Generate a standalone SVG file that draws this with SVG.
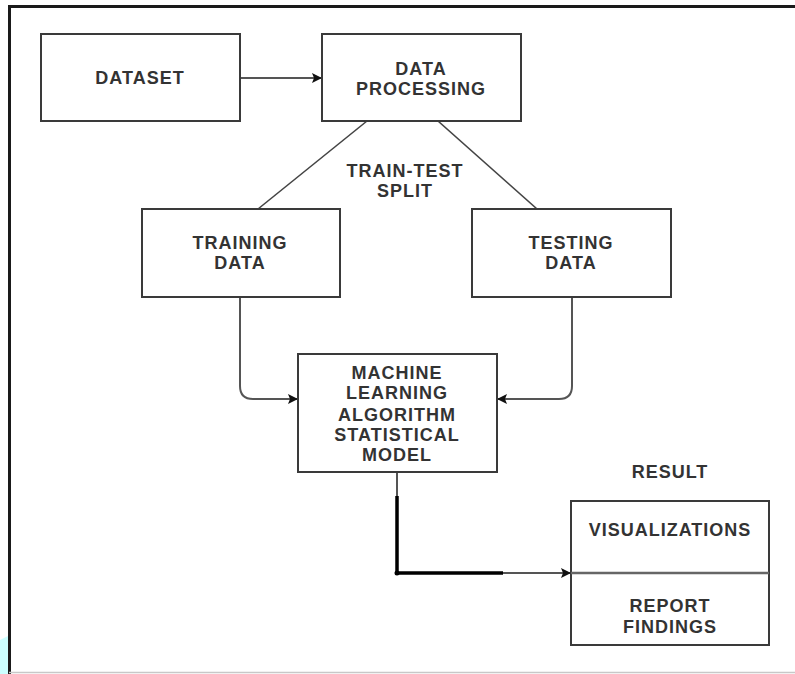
<svg xmlns="http://www.w3.org/2000/svg" width="795" height="674" viewBox="0 0 795 674">
  <style>
    .box { fill: #ffffff; stroke: #3a3a3a; stroke-width: 2; }
    .lbl { font-family: "Liberation Sans", Arial, sans-serif; font-size: 18px; font-weight: bold; fill: #333333; text-anchor: middle; letter-spacing: 1px; }
    .wire { fill: none; stroke: #555555; stroke-width: 2; }
    .thin { fill: none; stroke: #444444; stroke-width: 1.6; }
    .heavy { fill: none; stroke: #000000; stroke-width: 3.5; }
  </style>
  <defs>
    <marker id="arrow" markerWidth="10" markerHeight="10" refX="9" refY="5" orient="auto" markerUnits="userSpaceOnUse">
      <path d="M0,0 L10,5 L0,10 L2,5 Z" fill="#111111"/>
    </marker>
  </defs>

  <!-- page background and frame -->
  <rect x="0" y="0" width="795" height="674" fill="#ffffff"/>
  <path d="M0,640 L8,636 L8,674 L0,674 Z" fill="#ccffff"/>
  <path d="M9.5,674 L9.5,6.5 L795,6.5" fill="none" stroke="#1a1a1a" stroke-width="3"/>
  <line x1="9" y1="672.5" x2="795" y2="672.5" stroke="#c8c8c8" stroke-width="1.5"/>

  <!-- connectors -->
  <g id="connectors">
    <line class="wire" x1="240" y1="78" x2="321" y2="78" stroke="#777777" stroke-width="3" marker-end="url(#arrow)"/>
    <line class="thin" x1="367" y1="121" x2="258" y2="209"/>
    <line class="thin" x1="438" y1="121" x2="537" y2="209"/>
    <path class="wire" d="M240,297 L240,386 Q240,399 253,399 L297,399" marker-end="url(#arrow)"/>
    <path class="wire" d="M572,297 L572,386 Q572,399 559,399 L498,399" marker-end="url(#arrow)"/>
    <line class="wire" x1="397" y1="472" x2="397" y2="497" stroke="#666666"/>
    <path class="heavy" d="M397,496 L397,573 L503,573"/>
    <circle cx="397" cy="573" r="2.5" fill="#000000"/>
    <line class="wire" x1="503" y1="573" x2="570" y2="573" stroke="#777777" stroke-width="2.5" marker-end="url(#arrow)"/>
  </g>

  <g id="dataset">
    <rect class="box" x="41" y="34" width="199" height="87"/>
    <text class="lbl" x="140" y="84">DATASET</text>
  </g>

  <g id="data-processing">
    <rect class="box" x="322" y="34" width="199" height="87"/>
    <text class="lbl" x="421" y="75">DATA</text>
    <text class="lbl" x="421" y="95">PROCESSING</text>
  </g>

  <g id="split-label">
    <text class="lbl" x="405" y="177">TRAIN-TEST</text>
    <text class="lbl" x="405" y="197">SPLIT</text>
  </g>

  <g id="training-data">
    <rect class="box" x="142" y="209" width="198" height="88"/>
    <text class="lbl" x="240" y="249">TRAINING</text>
    <text class="lbl" x="240" y="269">DATA</text>
  </g>

  <g id="testing-data">
    <rect class="box" x="472" y="209" width="199" height="88"/>
    <text class="lbl" x="571" y="249">TESTING</text>
    <text class="lbl" x="571" y="269">DATA</text>
  </g>

  <g id="ml-model">
    <rect class="box" x="298" y="354" width="199" height="118"/>
    <text class="lbl" x="397" y="379">MACHINE</text>
    <text class="lbl" x="397" y="399">LEARNING</text>
    <text class="lbl" x="397" y="421">ALGORITHM</text>
    <text class="lbl" x="397" y="441">STATISTICAL</text>
    <text class="lbl" x="397" y="461">MODEL</text>
  </g>

  <g id="result">
    <text class="lbl" x="670" y="478">RESULT</text>
    <rect class="box" x="571" y="501" width="198" height="144"/>
    <line x1="571" y1="573" x2="769" y2="573" stroke="#666666" stroke-width="2.5"/>
    <text class="lbl" x="670" y="536">VISUALIZATIONS</text>
    <text class="lbl" x="670" y="612">REPORT</text>
    <text class="lbl" x="670" y="633">FINDINGS</text>
  </g>
</svg>
